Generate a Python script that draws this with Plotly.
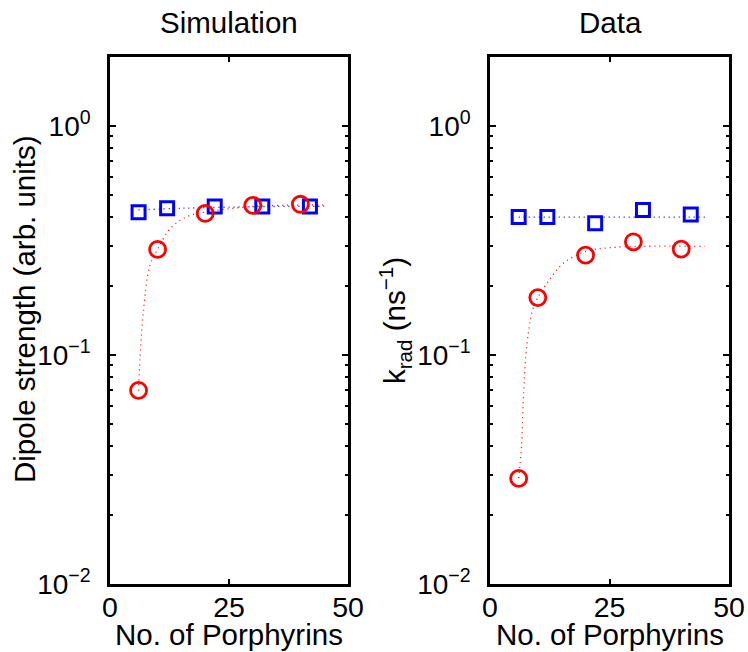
import plotly.graph_objects as go

# ---------------- data ----------------
sim_sq_x = [6, 12, 22, 32, 42]
sim_sq_y = [0.42, 0.437, 0.445, 0.445, 0.445]
sim_ci_x = [6, 10, 20, 30, 40]
sim_ci_y = [0.070, 0.289, 0.415, 0.45, 0.455]

sim_fit_red_x = [6, 6.3, 7.0, 8.4, 10, 12.7, 16.2, 20, 30, 45]
sim_fit_red_y = [0.070, 0.096, 0.154, 0.247, 0.289, 0.357, 0.402, 0.42, 0.445, 0.452]
sim_fit_blue_x = [6, 15, 25, 35, 45]
sim_fit_blue_y = [0.43, 0.437, 0.442, 0.445, 0.446]

dat_sq_x = [6, 12, 22, 32, 42]
dat_sq_y = [0.40, 0.40, 0.376, 0.43, 0.41]
dat_ci_x = [6, 10, 20, 30, 40]
dat_ci_y = [0.0289, 0.178, 0.273, 0.312, 0.29]

dat_fit_red_x = [6, 6.6, 7.0, 7.7, 8.8, 10, 12.6, 15.3, 20, 25.1, 32, 45]
dat_fit_red_y = [0.029, 0.040, 0.066, 0.11, 0.154, 0.178, 0.215, 0.251, 0.283, 0.294, 0.298, 0.298]
dat_fit_blue_x = [6, 45]
dat_fit_blue_y = [0.40, 0.40]

x_ticks = [0, 25, 50]
y_ticks = [0.01, 0.1, 1]
y_ticktext = ["10<sup>\u22122</sup>", "10<sup>\u22121</sup>", "10<sup>0</sup>"]
y_minor = [k * 10.0 ** e for e in (-2, -1) for k in range(2, 10)] + [2]

titles = ["Simulation", "Data"]
x_label = "No. of Porphyrins"
y_labels = ["Dipole strength (arb. units)", "k<sub>rad</sub> (ns<sup>\u22121</sup>)"]

RED = "#ff0000"
BLUE = "#0000ff"
FONT = "Liberation Sans, Arial, Helvetica, sans-serif"
FS = 29.5
W, H = 748, 652

fig = go.Figure()

panels = [
    (sim_fit_blue_x, sim_fit_blue_y, sim_fit_red_x, sim_fit_red_y, sim_sq_x, sim_sq_y, sim_ci_x, sim_ci_y),
    (dat_fit_blue_x, dat_fit_blue_y, dat_fit_red_x, dat_fit_red_y, dat_sq_x, dat_sq_y, dat_ci_x, dat_ci_y),
]
for i, (bfx, bfy, rfx, rfy, sx, sy, cx, cy) in enumerate(panels):
    xa = "x" if i == 0 else "x2"
    ya = "y" if i == 0 else "y2"
    fig.add_trace(go.Scatter(x=bfx, y=bfy, mode="lines", line=dict(color=BLUE, width=1.3, dash="1px,4px", shape="spline"),
                             xaxis=xa, yaxis=ya, showlegend=False))
    fig.add_trace(go.Scatter(x=rfx, y=rfy, mode="lines", line=dict(color=RED, width=1.3, dash="1px,4px", shape="spline"),
                             xaxis=xa, yaxis=ya, showlegend=False))
    fig.add_trace(go.Scatter(x=sx, y=sy, mode="markers",
                             marker=dict(symbol="square-open", size=13, color=BLUE, line=dict(width=3, color=BLUE)),
                             xaxis=xa, yaxis=ya, showlegend=False))
    fig.add_trace(go.Scatter(x=cx, y=cy, mode="markers",
                             marker=dict(symbol="circle-open", size=16, color=RED, line=dict(width=2.8, color=RED)),
                             xaxis=xa, yaxis=ya, showlegend=False))

ytop = 1 - 57 / H
ybot = 1 - 584 / H
doms = [[110 / W, 348 / W], [490 / W, 729 / W]]

common_x = dict(range=[0, 50], tickvals=x_ticks, ticks="inside", ticklen=5, tickwidth=1.5, tickcolor="black",
                showline=True, linewidth=2.5, linecolor="black", mirror="ticks", showgrid=False, zeroline=False,
                tickfont=dict(family=FONT, size=28.5, color="black"), automargin=False, ticklabelstandoff=-4)
common_y = dict(type="log", range=[-2, 0.301], tickvals=y_ticks, ticktext=y_ticktext, ticks="inside", ticklen=6,
                tickwidth=1.5, tickcolor="black", showline=True, linewidth=2.5, linecolor="black", mirror="ticks",
                showgrid=False, zeroline=False, tickfont=dict(family=FONT, size=28, color="black"), automargin=False,
                ticklabelstandoff=11,
                minor=dict(tickmode="array", tickvals=y_minor, ticks="inside", ticklen=3, tickwidth=1.5,
                           tickcolor="black", showgrid=False))

fig.update_layout(
    width=W, height=H, margin=dict(l=0, r=0, t=0, b=0),
    plot_bgcolor="white", paper_bgcolor="white",
    xaxis=dict(domain=doms[0], anchor="y", **common_x),
    yaxis=dict(domain=[ybot, ytop], anchor="x", **common_y),
    xaxis2=dict(domain=doms[1], anchor="y2", **common_x),
    yaxis2=dict(domain=[ybot, ytop], anchor="x2", **common_y),
)

ann_font = dict(family=FONT, size=FS, color="black")
centers = [229, 610]
for i in range(2):
    fig.add_annotation(x=centers[i] / W, y=1 - 22 / H, xref="paper", yref="paper", text=titles[i],
                       showarrow=False, font=ann_font, xanchor="center", yanchor="middle")
    fig.add_annotation(x=centers[i] / W, y=0, xref="paper", yref="paper", text=x_label,
                       showarrow=False, font=ann_font, xanchor="center", yanchor="bottom", borderpad=0)
fig.add_annotation(x=24 / W, y=1 - 309 / H, xref="paper", yref="paper", text=y_labels[0], textangle=-90,
                   showarrow=False, font=ann_font, xanchor="center", yanchor="middle")
fig.add_annotation(x=395 / W, y=1 - 321 / H, xref="paper", yref="paper", text=y_labels[1], textangle=-90,
                   showarrow=False, font=ann_font, xanchor="center", yanchor="middle")

fig.write_html("out.html")
